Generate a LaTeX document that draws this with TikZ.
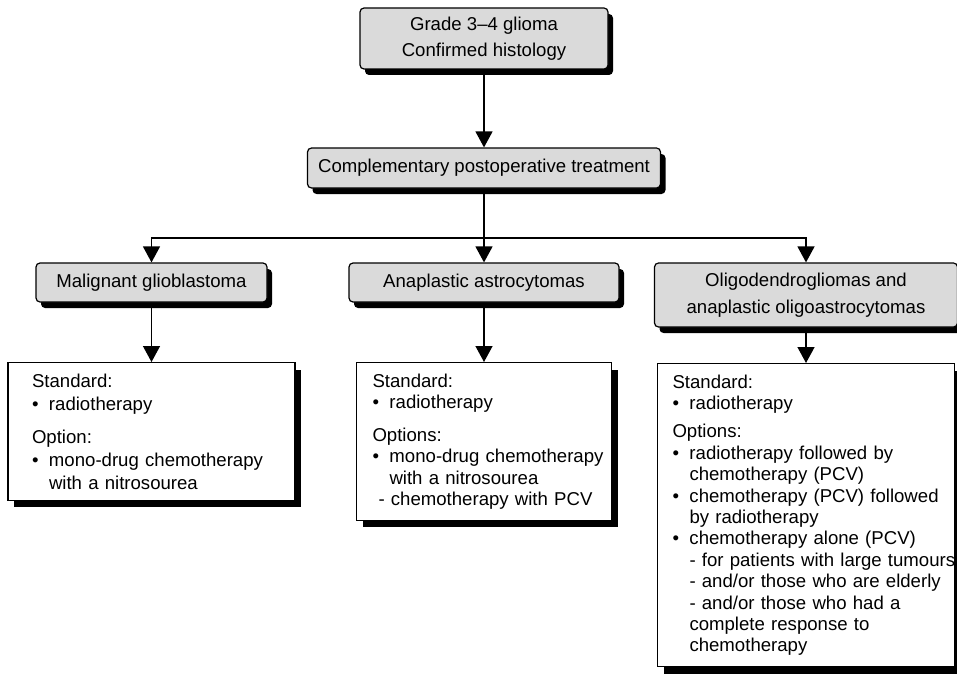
\documentclass[tikz,border=0pt]{standalone}
\usepackage{fontspec}
\setmainfont{Liberation Sans}
\usetikzlibrary{positioning,shadows,arrows.meta}

\definecolor{headgray}{RGB}{218,218,218}
\newcommand{\bul}[1]{\mbox{\makebox[17pt][l]{\textbullet}#1}}
\newcommand{\ind}[1]{\mbox{\hspace*{17pt}#1}}

\begin{document}
\begin{tikzpicture} [
                x=1pt, y=-1pt,
                headnode/.style={
                    rectangle,
                    draw,
                    line width=1.2pt,
                    rounded corners=4pt,
                    fill=headgray,
                    align=center,
                    font=\fontsize{18.6}{26.5}\selectfont,
                    general shadow={fill=black, shadow xshift=5pt, shadow yshift=-6pt}
                },
                plannode/.style={
                    rectangle,
                    draw,
                    line width=1.2pt,
                    fill=white,
                    align=left,
                    anchor=north,
                    inner ysep=11pt,
                    general shadow={fill=black, shadow xshift=6pt, shadow yshift=-7pt}
                },
                link/.style={line width=1.4pt},
                arrowlink/.style={line width=1.4pt, -{Triangle[width=17pt,length=16pt]}}
            ]

                \useasboundingbox (0,0) rectangle (957,674);

                \node[headnode, minimum width=248pt, minimum height=61pt]   (grade)     at (484,38.5)   {Grade 3--4 glioma\\Confirmed histology};
                \node[headnode, minimum width=353pt, minimum height=40pt]   (treat)     at (484,168)    {Complementary postoperative treatment};
                \node[headnode, minimum width=231pt, minimum height=39pt]   (malig)     at (151.5,282.5) {Malignant glioblastoma};
                \node[headnode, minimum width=270pt, minimum height=39pt]   (anaplas)   at (484,282.5)  {Anaplastic astrocytomas};
                \node[headnode, minimum width=303pt, minimum height=64pt]   (oligo)     at (806,295)    {Oligodendrogliomas and\\anaplastic oligoastrocytomas};

                \node[plannode, inner xsep=24pt, text width=239pt, font=\fontsize{18.6}{23}\selectfont]     (plan1)  at (151.5,362) {
                    Standard:\\
                    \bul{radiotherapy}\\[10pt]
                    Option:\\
                    \bul{mono-drug chemotherapy}\\
                    \ind{with a nitrosourea}};
                \node[plannode, inner xsep=16pt, text width=223pt, font=\fontsize{18.6}{21.5}\selectfont]   (plan2)  at (484,362) {
                    Standard:\\
                    \bul{radiotherapy}\\[11pt]
                    Options:\\
                    \bul{mono-drug chemotherapy}\\
                    \ind{with a nitrosourea}\\
                    \mbox{\hspace*{6pt}- chemotherapy with PCV}};
                \node[plannode, inner xsep=15pt, text width=267pt, font=\fontsize{18.6}{21.4}\selectfont]   (plan3)  at (806,363) {
                    Standard:\\
                    \bul{radiotherapy}\\[7pt]
                    Options:\\
                    \bul{radiotherapy followed by}\\
                    \ind{chemotherapy (PCV)}\\
                    \bul{chemotherapy (PCV) followed}\\
                    \ind{by radiotherapy}\\
                    \bul{chemotherapy alone (PCV)}\\
                    \ind{- for patients with large tumours}\\
                    \ind{- and/or those who are elderly}\\
                    \ind{- and/or those who had a}\\
                    \ind{complete response to}\\
                    \ind{chemotherapy}};

                \coordinate (split) at (484,238);

                \draw[arrowlink]    (grade)     --  (treat);
                \draw[link]         (treat)     --  (split);
                \draw[arrowlink]    (split)     -|  (malig);
                \draw[arrowlink]    (split)     --  (anaplas);
                \draw[arrowlink]    (split)     -|  (oligo);
                \draw[arrowlink]    (malig)     --  (plan1);
                \draw[arrowlink]    (anaplas)   --  (plan2);
                \draw[arrowlink]    (oligo)     --  (plan3);

            \end{tikzpicture}
\end{document}
